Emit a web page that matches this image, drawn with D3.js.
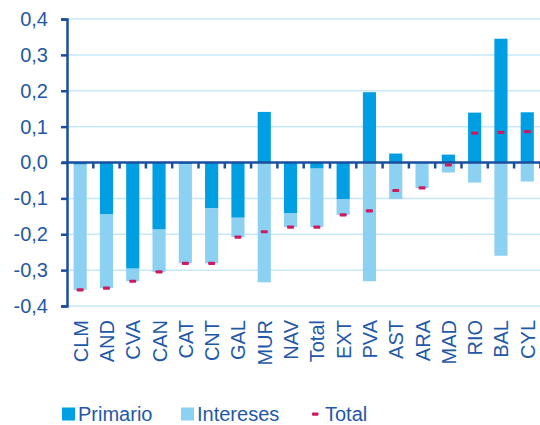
<!DOCTYPE html>
<html>
<head>
<meta charset="utf-8">
<script src="https://cdn.jsdelivr.net/npm/d3@7"></script>
<style>
  html, body { margin: 0; padding: 0; background: #fff; }
  svg { display: block; font-family: "Liberation Sans", Arial, sans-serif; }
</style>
</head>
<body>
<svg id="chart" width="540" height="425"></svg>
<script>
// Regional balance breakdown: primary balance and interest, with overall total
const categories = ["CLM","AND","CVA","CAN","CAT","CNT","GAL","MUR","NAV","Total","EXT","PVA","AST","ARA","MAD","RIO","BAL","CYL"];
const primario  = [-0.006,-0.145,-0.296,-0.187,-0.005,-0.127,-0.154, 0.141,-0.142,-0.017,-0.103, 0.196, 0.025,-0.002, 0.022, 0.139, 0.345, 0.140];
const intereses = [-0.349,-0.205,-0.035,-0.118,-0.276,-0.154,-0.054,-0.334,-0.038,-0.163,-0.043,-0.331,-0.102,-0.069,-0.028,-0.056,-0.260,-0.053];
const totales   = [-0.355,-0.350,-0.331,-0.305,-0.281,-0.281,-0.208,-0.193,-0.180,-0.180,-0.146,-0.135,-0.078,-0.071,-0.007, 0.082, 0.084, 0.086];
const yTicks = [-0.4,-0.3,-0.2,-0.1,0,0.1,0.2,0.3,0.4];
const seriesNames = ["Primario","Intereses","Total"];

const colors = { Primario: "#009FE3", Intereses: "#8CD1F2", Total: "#CC1B60" };
const textColor = "#1F58A8";
const axisColor = "#1A4E9E";
const gridColor = "#C6E7F8";

const svg = d3.select("#chart");
const margin = { left: 67, right: 0, top: 19, bottom: 119 };
const width = 540.4, height = 425;

const x = d3.scaleBand()
  .domain(categories)
  .range([margin.left, width])
  .paddingInner(0.5)
  .paddingOuter(0.25);

const y = d3.scaleLinear()
  .domain([-0.4, 0.4])
  .range([306, 19]);

const locale = d3.formatLocale({ decimal: ",", thousands: ".", grouping: [3], currency: ["", "€"], minus: "-" });
const fmt = locale.format(".1f");

// horizontal gridlines
svg.append("g")
  .selectAll("line")
  .data(yTicks.filter(d => d !== 0))
  .join("line")
  .attr("x1", margin.left).attr("x2", width)
  .attr("y1", d => y(d)).attr("y2", d => y(d))
  .attr("stroke", gridColor).attr("stroke-width", 1.5);

// stacked bars (diverging around zero)
const rows = categories.map((c, i) => ({ cat: c, Primario: primario[i], Intereses: intereses[i] }));
const stack = d3.stack().keys(["Primario", "Intereses"]).offset(d3.stackOffsetDiverging);
const layers = stack(rows);

svg.append("g")
  .selectAll("g")
  .data(layers)
  .join("g")
  .attr("fill", d => colors[d.key])
  .selectAll("rect")
  .data(d => d)
  .join("rect")
  .attr("x", d => x(d.data.cat))
  .attr("width", x.bandwidth())
  .attr("y", d => y(Math.max(d[0], d[1])))
  .attr("height", d => Math.abs(y(d[0]) - y(d[1])));

// y axis
const yAxis = d3.axisLeft(y)
  .tickValues(yTicks)
  .tickFormat(fmt)
  .tickSize(6)
  .tickPadding(13);

const gy = svg.append("g")
  .attr("transform", `translate(${margin.left},0)`)
  .call(yAxis);
gy.select(".domain").attr("stroke", axisColor).attr("stroke-width", 2.5);
gy.selectAll(".tick line").attr("stroke", axisColor).attr("stroke-width", 2.5);
gy.selectAll(".tick text")
  .attr("fill", textColor)
  .style("font-size", "20px")
  .attr("font-family", "Liberation Sans, Arial, sans-serif");

// zero line with category separators
const step = x.step();
svg.append("line")
  .attr("x1", margin.left - 5).attr("x2", width)
  .attr("y1", y(0)).attr("y2", y(0))
  .attr("stroke", axisColor).attr("stroke-width", 2.5);

svg.append("g")
  .selectAll("line")
  .data(categories.map((c, i) => i + 1))
  .join("line")
  .attr("x1", i => margin.left + i * step).attr("x2", i => margin.left + i * step)
  .attr("y1", y(0)).attr("y2", y(0) + 6)
  .attr("stroke", axisColor).attr("stroke-width", 2.5);

// total markers
svg.append("g")
  .selectAll("rect")
  .data(categories.map((c, i) => ({ cat: c, v: totales[i] })))
  .join("rect")
  .attr("x", d => x(d.cat) + x.bandwidth() / 2 - 3.5)
  .attr("y", d => y(d.v) - 1.6)
  .attr("width", 7).attr("height", 3.2)
  .attr("rx", 1)
  .attr("fill", colors.Total);

// category labels, rotated
svg.append("g")
  .selectAll("text")
  .data(categories)
  .join("text")
  .attr("transform", d => `translate(${x(d) + x.bandwidth() / 2 + 7.5},320) rotate(-90)`)
  .attr("text-anchor", "end")
  .attr("fill", textColor)
  .style("font-size", "20px")
  .text(d => d);

// legend
const legend = svg.append("g");
const legendItems = [
  { name: seriesNames[0], x: 62, type: "box" },
  { name: seriesNames[1], x: 181, type: "box" },
  { name: seriesNames[2], x: 312, type: "dash" }
];
legendItems.forEach(it => {
  if (it.type === "box") {
    legend.append("rect")
      .attr("x", it.x).attr("y", 407.5)
      .attr("width", 13).attr("height", 13)
      .attr("fill", colors[it.name]);
    legend.append("text")
      .attr("x", it.x + 16).attr("y", 420.5)
      .attr("fill", textColor)
      .style("font-size", "20px")
      .text(it.name);
  } else {
    legend.append("rect")
      .attr("x", it.x).attr("y", 412.5).attr("width", 6.5).attr("height", 3.3).attr("rx", 1)
      .attr("fill", colors[it.name]);
    legend.append("text")
      .attr("x", it.x + 13).attr("y", 420.5)
      .attr("fill", textColor)
      .style("font-size", "20px")
      .text(it.name);
  }
});
</script>
</body>
</html>
